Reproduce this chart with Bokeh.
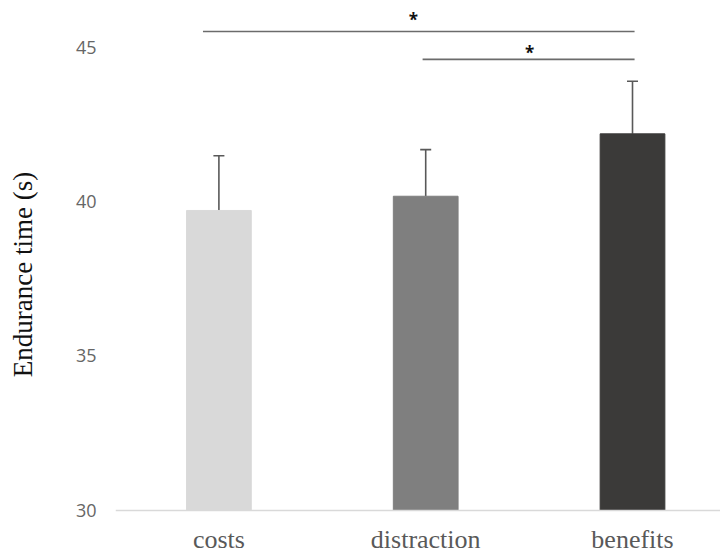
from bokeh.plotting import figure
from bokeh.models import (Range1d, FixedTicker, ColumnDataSource, Whisker, TeeHead)
from bokeh.core.properties import value
from bokeh.embed import file_html
from bokeh.resources import INLINE

# ---- data ----
categories = ["costs", "distraction", "benefits"]
means = [39.71, 40.17, 42.19]
errors = [1.77, 1.51, 1.70]
bar_colors = ["#d9d9d9", "#7f7f7f", "#3b3a39"]
y_ticks = [30, 35, 40, 45]
y_title = "Endurance time (s)"

# significance brackets (annotation)
sig_x0 = [0.423, 1.485]
sig_x1 = [2.51, 2.51]
sig_y = [45.50, 44.60]
star_x = [1.441, 2.002]
star_y = [45.89, 44.82]
star_text = ["*", "*"]

xs = [i + 0.5 for i in range(len(categories))]
uppers = [m + e for m, e in zip(means, errors)]

p = figure(width=720, height=553, output_backend="svg", toolbar_location=None,
           x_range=Range1d(0, 2.9255), y_range=Range1d(28.770, 46.505),
           min_border_left=115, min_border_right=0, min_border_top=0,
           min_border_bottom=5)
p.outline_line_color = None
p.xgrid.visible = False
p.ygrid.visible = False
p.background_fill_color = "white"
p.border_fill_color = "white"

src = ColumnDataSource(dict(x=xs, top=means, upper=uppers, color=bar_colors))
p.vbar(x="x", top="top", bottom=30, width=0.313, fill_color="color",
       line_color="color", source=src)

w = Whisker(base="x", lower="top", upper="upper", source=src,
            line_color="#595959", line_width=1.6,
            upper_head=TeeHead(size=11, line_color="#595959", line_width=1.6),
            lower_head=None)
p.add_layout(w)

p.segment(x0=sig_x0, y0=sig_y, x1=sig_x1, y1=sig_y, line_color="#6b6b6b", line_width=1.6)
p.text(x=star_x, y=star_y, text=star_text, text_align="center", text_baseline="middle",
       text_font=value("Open Sans"), text_font_size="17px", text_font_style="bold",
       text_color="#111111")

# x axis, drawn at y = 30
p.xaxis.fixed_location = 30
p.xaxis.ticker = FixedTicker(ticks=xs)
p.xaxis.major_label_overrides = {x: c for x, c in zip(xs, categories)}
p.xaxis.major_label_text_font = "Liberation Serif"
p.xaxis.major_label_text_font_size = "26px"
p.xaxis.major_label_text_color = "#595959"
p.xaxis.major_tick_out = 0
p.xaxis.major_tick_in = 0
p.xaxis.major_label_standoff = 15
p.xaxis.axis_line_color = "#d9d9d9"
p.xaxis.axis_line_width = 1.6
p.xaxis.major_tick_line_color = None
p.xaxis.minor_tick_line_color = None

# y axis
p.yaxis.ticker = FixedTicker(ticks=y_ticks)
p.yaxis.axis_line_color = None
p.yaxis.major_tick_line_color = None
p.yaxis.minor_tick_line_color = None
p.yaxis.major_tick_out = 0
p.yaxis.major_tick_in = 0
p.yaxis.major_label_text_font = "Open Sans"
p.yaxis.major_label_text_font_size = "18px"
p.yaxis.major_label_text_color = "#666666"
p.yaxis.major_label_standoff = 19
p.yaxis.axis_label = y_title
p.yaxis.axis_label_text_font = "Liberation Serif"
p.yaxis.axis_label_text_font_size = "27px"
p.yaxis.axis_label_text_font_style = "normal"
p.yaxis.axis_label_text_color = "#111111"
p.yaxis.axis_label_standoff = 35

open("out.html", "w").write(file_html(p, INLINE))
